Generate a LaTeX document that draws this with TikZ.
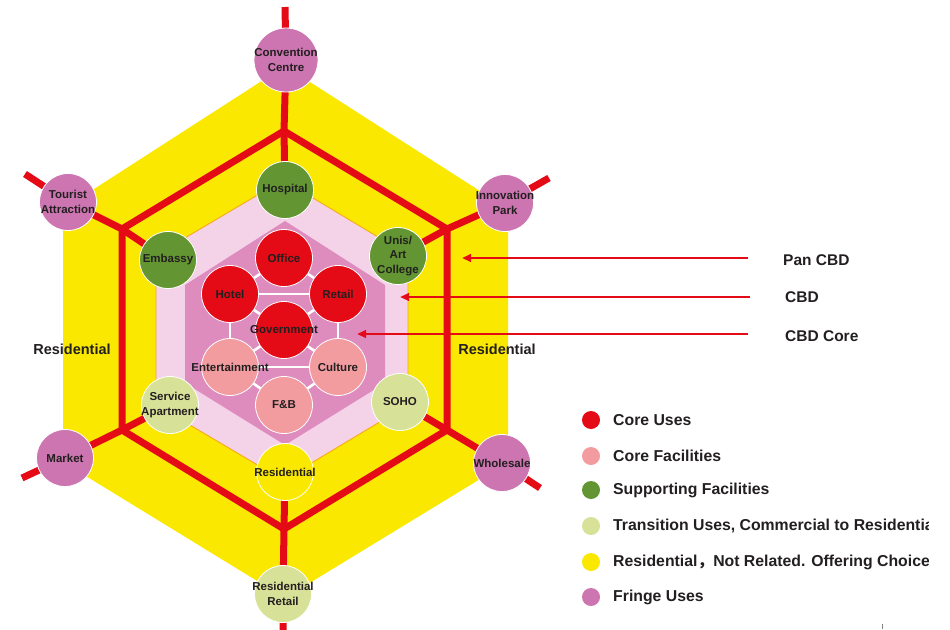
\documentclass[tikz,border=0pt]{standalone}
\usepackage{fontspec}
\setmainfont{Liberation Sans}
\newfontfamily\cjk{Noto Sans CJK SC}
\usetikzlibrary{arrows.meta}
\pgfdeclarelayer{hexl}
\pgfdeclarelayer{linel}
\pgfsetlayers{hexl,linel,main}
\definecolor{cred}{RGB}{228,10,22}
\definecolor{cpink}{RGB}{242,156,160}
\definecolor{cgreen}{RGB}{99,150,50}
\definecolor{cpale}{RGB}{215,226,152}
\definecolor{cyel}{RGB}{250,232,0}
\definecolor{cfringe}{RGB}{204,117,176}
\definecolor{hexmid}{RGB}{222,140,190}
\definecolor{hexlight}{RGB}{244,210,232}
\definecolor{hexedge}{RGB}{247,170,20}
\definecolor{txt}{RGB}{35,31,32}
\tikzset{
  lab/.style={inner sep=0pt, align=center, font=\bfseries\fontsize{11.5}{14.5}\selectfont, text=txt},
  bub/.style={circle, draw=white, line width=0.8pt, minimum size=57pt, inner sep=0pt,
    label={[lab]center:#1}},
  coreb/.style={bub={#1}, fill=cred},
  facb/.style={bub={#1}, fill=cpink},
  supb/.style={bub={#1}, fill=cgreen},
  trab/.style={bub={#1}, fill=cpale},
  resb/.style={bub={#1}, fill=cyel},
  frib/.style={bub={#1}, fill=cfringe},
  redline/.style={cred, line width=7pt},
  wlink/.style={white, line width=2.6pt},
  zonearrow/.style={cred, line width=2.2pt, -{Triangle[length=9pt,width=7.5pt]}},
  legdot/.style={circle, inner sep=0pt, minimum size=18pt},
  legtext/.style={anchor=west, inner sep=0pt, font=\bfseries\fontsize{15.8}{18}\selectfont, text=txt},
  zonelabel/.style={anchor=west, inner sep=0pt, font=\bfseries\fontsize{15.5}{18}\selectfont, text=txt},
  sidelabel/.style={inner sep=0pt, font=\bfseries\fontsize{14.5}{17}\selectfont, text=txt}
}
\begin{document}
\begin{tikzpicture}[x=1pt,y=-1pt]
\useasboundingbox (0,0) rectangle (950,629);

% hexagon zones
\begin{pgfonlayer}{hexl}
  \fill[cyel] (285,66) -- (508,209) -- (508,462) -- (285,598) -- (63,462) -- (63,209) -- cycle;
  \filldraw[fill=hexlight, draw=hexedge, line width=0.9pt]
    (283,180) -- (408,255) -- (408,405) -- (283,480) -- (156,405) -- (156,255) -- cycle;
  \fill[hexmid] (285,221) -- (385,285) -- (385,383) -- (285,445) -- (185,383) -- (185,285) -- cycle;
\end{pgfonlayer}

% red hexagon corners and spoke ends
\coordinate (rT) at (284,131);
\coordinate (rUR) at (447,229);
\coordinate (rLR) at (447,430);
\coordinate (rB) at (284,529);
\coordinate (rLL) at (122,430);
\coordinate (rUL) at (122,229);
\coordinate (eT) at (285,7);
\coordinate (eUL) at (25,174);
\coordinate (eUR) at (549,178);
\coordinate (eLL) at (22,478);
\coordinate (eLR) at (540,488);
\coordinate (eB) at (283,640);

% circles
\node[frib={Convention\\Centre}, minimum size=64pt] (conv) at (286,60) {};
\node[frib={Tourist\\Attraction}] (tour) at (68,202) {};
\node[frib={Innovation\\Park}] (innov) at (505,203) {};
\node[frib={Market}] (market) at (65,458) {};
\node[frib={Wholesale}] (whole) at (502,463) {};
\node[trab={Residential\\Retail}] (resret) at (283,594) {};
\node[supb={Hospital}] (hosp) at (285,190) {};
\node[supb={Embassy}] (emb) at (168,260) {};
\node[supb={Unis/\\Art\\College}] (unis) at (398,256) {};
\node[trab={Service\\Apartment}] (serv) at (170,405) {};
\node[trab={SOHO}] (soho) at (400,402) {};
\node[resb={Residential}] (resi) at (285,472) {};
\node[coreb={Office}] (office) at (284,258) {};
\node[coreb={Hotel}] (hotel) at (230,294) {};
\node[coreb={Retail}] (retail) at (338,294) {};
\node[coreb={Government}] (gov) at (284,330) {};
\node[facb={Entertainment}] (ent) at (230,367) {};
\node[facb={Culture}] (cult) at (338,367) {};
\node[facb={F\&B}] (fb) at (284,405) {};

% red lines and white links
\begin{pgfonlayer}{linel}
  \draw[redline, line join=miter] (rT) -- (rUR) -- (rLR) -- (rB) -- (rLL) -- (rUL) -- cycle;
  \draw[redline] (eT) -- (conv.center) -- (rT) -- (hosp.center);
  \draw[redline] (eUL) -- (tour.center) -- (rUL) -- (emb.center);
  \draw[redline] (eUR) -- (innov.center) -- (rUR) -- (unis.center);
  \draw[redline] (eLL) -- (market.center) -- (rLL) -- (serv.center);
  \draw[redline] (eLR) -- (whole.center) -- (rLR) -- (soho.center);
  \draw[redline] (eB) -- (resret.center) -- (rB) -- (resi.center);
  \draw[wlink] (office.center) -- (hotel.center);
  \draw[wlink] (office.center) -- (retail.center);
  \draw[wlink] (hotel.center) -- (retail.center);
  \draw[wlink] (hotel.center) -- (gov.center);
  \draw[wlink] (retail.center) -- (gov.center);
  \draw[wlink] (hotel.center) -- (ent.center);
  \draw[wlink] (retail.center) -- (cult.center);
  \draw[wlink] (gov.center) -- (ent.center);
  \draw[wlink] (gov.center) -- (cult.center);
  \draw[wlink] (ent.center) -- (cult.center);
  \draw[wlink] (ent.center) -- (fb.center);
  \draw[wlink] (cult.center) -- (fb.center);
\end{pgfonlayer}

% side labels
\node[sidelabel] (resL) at (72,349) {Residential};
\node[sidelabel] (resR) at (497,349) {Residential};

% zone labels and arrows
\node[zonelabel] (lpan) at (783,260) {Pan CBD};
\node[zonelabel] (lcbd) at (785,297) {CBD};
\node[zonelabel] (lcore) at (785,336) {CBD Core};
\coordinate (tpan) at (748,258);
\coordinate (hpan) at (462,258);
\coordinate (tcbd) at (750,297);
\coordinate (hcbd) at (400,297);
\coordinate (tcore) at (748,334);
\coordinate (hcore) at (357,334);
\draw[zonearrow] (tpan) -- (hpan);
\draw[zonearrow] (tcbd) -- (hcbd);
\draw[zonearrow] (tcore) -- (hcore);

% legend
\begin{scope}
  \clip (0,0) rectangle (928,629);
  \node[legdot, fill=cred] (d1) at (591,420) {};
  \node[legdot, fill=cpink] (d2) at (591,456) {};
  \node[legdot, fill=cgreen] (d3) at (591,490) {};
  \node[legdot, fill=cpale] (d4) at (591,526) {};
  \node[legdot, fill=cyel] (d5) at (591,562) {};
  \node[legdot, fill=cfringe] (d6) at (591,597) {};
  \node[legtext] (t1) at (613,420) {Core Uses};
  \node[legtext] (t2) at (613,456) {Core Facilities};
  \node[legtext] (t3) at (613,490) {Supporting Facilities};
  \node[legtext] (t4) at (613,526) {Transition Uses, Commercial to Residential};
  \node[legtext] (t5) at (613,562) {Residential{\cjk ，}Not Related. Offering Choice};
  \node[legtext] (t6) at (613,597) {Fringe Uses};
\end{scope}
\draw[gray, line width=0.8pt] (882,624) -- (882,629);
\end{tikzpicture}
\end{document}
